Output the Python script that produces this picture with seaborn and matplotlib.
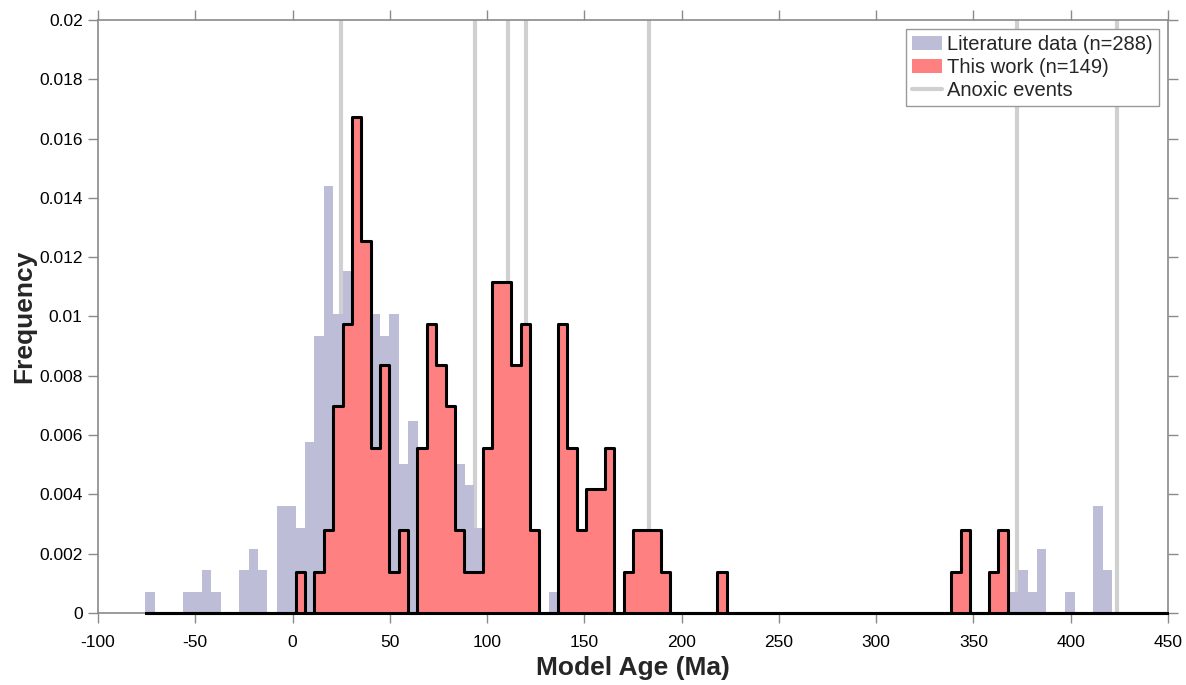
import numpy as np
import matplotlib
matplotlib.use('Agg')
import matplotlib.pyplot as plt
from matplotlib.patches import Patch
from matplotlib.lines import Line2D
from matplotlib.ticker import FuncFormatter
import seaborn as sns


# Literature data: 103 bins, counts per bin (n=288)
lit_start = -75.6
lit_width = 4.824
lit_counts = [1, 0, 0, 0, 1, 1, 2, 1, 0, 0,
              2, 3, 2, 0, 5, 5, 4, 8, 13, 20,
              14, 16, 18, 14, 14, 13, 14, 7, 9, 6,
              9, 8, 7, 7, 6, 4, 5, 7, 6, 5,
              4, 2, 0, 1, 2, 2, 1, 1, 1, 1,
              0, 0, 0, 0, 0, 0, 0, 0, 0, 0,
              0, 0, 0, 0, 0, 0, 0, 0, 0, 0,
              0, 0, 0, 0, 0, 0, 0, 0, 0, 0,
              0, 0, 0, 0, 0, 0, 0, 1, 0, 0,
              0, 0, 1, 2, 1, 3, 0, 0, 1, 0,
              0, 5, 2]

# This work: 76 bins, counts per bin (n=149)
work_start = 1.64
work_width = 4.815
work_counts = [1, 0, 1, 2, 5, 7, 12, 9, 4, 6,
               1, 2, 0, 4, 7, 6, 5, 2, 1, 1,
               4, 8, 8, 6, 7, 2, 0, 0, 7, 4,
               2, 3, 3, 4, 0, 1, 2, 2, 2, 1,
               0, 0, 0, 0, 0, 1, 0, 0, 0, 0,
               0, 0, 0, 0, 0, 0, 0, 0, 0, 0,
               0, 0, 0, 0, 0, 0, 0, 0, 0, 0,
               1, 2, 0, 0, 1, 2]

anoxic_events = [25, 94, 111, 120, 183, 372.5, 424]

lit_color = '#bdbdd7'
work_color = '#ff8080'
event_color = '#d0d0d0'


sns.set_style('ticks')
plt.rcParams['font.family'] = ['Liberation Sans', 'DejaVu Sans']
plt.rcParams['axes.unicode_minus'] = False

lit_edges = lit_start + lit_width * np.arange(len(lit_counts) + 1)
lit_centers = lit_edges[:-1] + lit_width / 2

# pad with empty bins so the black outline runs along zero from -75 up to 450
pad_left, pad_right = 16, 17
work_full = [0] * pad_left + work_counts + [0] * pad_right
work_edges = work_start + work_width * np.arange(-pad_left, len(work_counts) + pad_right + 1)
work_centers = work_edges[:-1] + work_width / 2

fig = plt.figure(figsize=(11.86, 6.85), dpi=100)
ax = fig.add_axes([0.0826, 0.105, 0.9022, 0.866])

for ev in anoxic_events:
    ax.axvline(ev, color=event_color, lw=3, zorder=0.5)

sns.histplot(x=lit_centers, weights=np.array(lit_counts, float), bins=list(lit_edges),
             stat='density', element='bars', color=lit_color, alpha=1, linewidth=0,
             ax=ax, zorder=1)
n_before = len(ax.collections)
sns.histplot(x=work_centers, weights=np.array(work_full, float), bins=list(work_edges),
             stat='density', element='step', fill=True, color=work_color, alpha=1,
             edgecolor='black', linewidth=2.2, ax=ax, zorder=3)
# let the outline sit on top of the bottom spine
for art in ax.collections[n_before:]:
    art.set_clip_on(False)

ax.set_xlim(-100, 450)
ax.set_ylim(0, 0.02)
ax.set_xticks(np.arange(-100, 451, 50))
ax.set_yticks(np.arange(0, 0.0201, 0.002))
ax.yaxis.set_major_formatter(FuncFormatter(lambda v, p: '%g' % round(v, 4)))

for s in ax.spines.values():
    s.set_visible(True)
    s.set_color('#8a8a8a')
    s.set_linewidth(1.2)
    s.set_zorder(2.5)
ax.tick_params(top=True, right=True, direction='out', length=7, width=1,
               color='#8a8a8a', labelsize=12.5, labelcolor='black')
ax.tick_params(axis='x', pad=9)
ax.tick_params(axis='y', pad=4)

ax.set_xlabel('Model Age (Ma)', fontsize=19, fontweight='bold', labelpad=4)
ax.set_ylabel('Frequency', fontsize=19, fontweight='bold', labelpad=2)

handles = [Patch(facecolor=lit_color, edgecolor='none'),
           Patch(facecolor=work_color, edgecolor='none'),
           Line2D([0], [0], color=event_color, lw=3)]
labels = ['Literature data (n=288)', 'This work (n=149)', 'Anoxic events']
leg = ax.legend(handles, labels, loc='upper right', fontsize=14.5, frameon=True,
                fancybox=False, framealpha=1, edgecolor='#999999',
                handlelength=1.5, handletextpad=0.25, labelspacing=0.2,
                borderpad=0.3, borderaxespad=0.45)
leg.get_frame().set_linewidth(1)

fig.savefig('out.png', dpi=100)
